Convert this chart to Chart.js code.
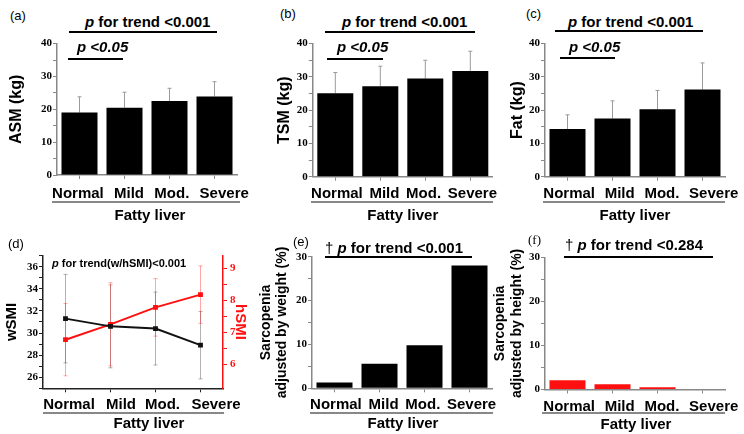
<!DOCTYPE html>
<html>
<head>
<meta charset="utf-8">
<script src="https://cdn.jsdelivr.net/npm/chart.js@4/dist/chart.umd.min.js"></script>
<style>
body { margin: 0; background: #fff; width: 744px; height: 434px; position: relative; overflow: hidden; font-family: Arial, "Liberation Sans", sans-serif; }
canvas { position: absolute; }
.t { position: absolute; white-space: nowrap; font-weight: bold; font-size: 15px; line-height: 18px; color: #000; }
.lab { position: absolute; white-space: nowrap; font-size: 13px; line-height: 18px; color: #000; }
.ln { position: absolute; height: 2px; background: #000; }
.ul { position: absolute; height: 2px; background: #888; }
</style>
</head>
<body>
<canvas id="cA" width="250" height="196" style="left:0;top:36px"></canvas>
<canvas id="cB" width="250" height="196" style="left:250px;top:36px"></canvas>
<canvas id="cC" width="244" height="196" style="left:500px;top:36px"></canvas>
<canvas id="cD" width="252" height="188" style="left:0;top:246px"></canvas>
<canvas id="cE" width="250" height="188" style="left:250px;top:246px"></canvas>
<canvas id="cF" width="259" height="188" style="left:485px;top:246px"></canvas>

<div class="lab" style="left:10px;top:7px">(a)</div>
<div class="lab" style="left:280px;top:5px">(b)</div>
<div class="lab" style="left:526px;top:5px">(c)</div>
<div class="lab" style="left:8px;top:235px">(d)</div>
<div class="lab" style="left:293px;top:233px">(e)</div>
<div class="lab" style="left:528px;top:231px;font-family:'Liberation Serif',serif">(f)</div>

<div class="t" style="left:85px;top:13px"><i>p</i> for trend &lt;0.001</div>
<div class="ln" style="left:69px;top:31px;width:148px"></div>
<div class="t" style="left:77px;top:38px"><i>p &lt;0.05</i></div>
<div class="ln" style="left:68px;top:58px;width:55px"></div>

<div class="t" style="left:342px;top:13px"><i>p</i> for trend &lt;0.001</div>
<div class="ln" style="left:325px;top:31px;width:150px"></div>
<div class="t" style="left:337px;top:38px"><i>p &lt;0.05</i></div>
<div class="ln" style="left:327px;top:58px;width:56px"></div>

<div class="t" style="left:568px;top:13px"><i>p</i> for trend &lt;0.001</div>
<div class="ln" style="left:555px;top:30px;width:148px"></div>
<div class="t" style="left:569px;top:38px"><i>p &lt;0.05</i></div>
<div class="ln" style="left:560px;top:57px;width:55px"></div>

<div class="t" style="left:52px;top:256px;font-size:11px;line-height:14px"><i>p</i> for trend(w/hSMI)&lt;0.001</div>

<div class="t" style="left:325px;top:239px"><span style="font-weight:normal">†</span> <i>p</i> for trend &lt;0.001</div>
<div class="ln" style="left:325px;top:256px;width:147px"></div>
<div class="t" style="left:565px;top:236px"><span style="font-weight:normal">†</span> <i>p</i> for trend &lt;0.284</div>
<div class="ln" style="left:564px;top:256px;width:149px"></div>

<div class="ul" style="left:52px;top:201px;width:188px"></div>
<div class="ul" style="left:311px;top:201px;width:182px"></div>
<div class="ul" style="left:543px;top:201px;width:182px"></div>
<div class="ul" style="left:43px;top:412px;width:181px"></div>
<div class="ul" style="left:310px;top:412px;width:183px"></div>
<div class="ul" style="left:542px;top:412px;width:183px"></div>

<script>
const categories = ['Normal', 'Mild', 'Mod.', 'Severe'];
const xTitle = 'Fatty liver';

const asmMean = [19.0, 20.5, 22.5, 23.9];
const asmSD = [4.8, 4.7, 3.9, 4.5];
const tsmMean = [25.1, 27.2, 29.5, 31.8];
const tsmSD = [6.2, 6.0, 5.5, 5.9];
const fatMean = [14.3, 17.5, 20.3, 26.2];
const fatSD = [4.3, 5.3, 5.6, 8.0];

const wsmiMean = [31.3, 30.6, 30.4, 28.9];
const wsmiSD = [4.0, 3.75, 3.3, 3.05];
const hsmiMean = [6.77, 7.25, 7.78, 8.18];
const hsmiSD = [1.13, 1.3, 0.9, 0.9];

const sarcWeight = [1.3, 5.6, 9.8, 28.0];
const sarcHeight = [2.1, 1.2, 0.5, 0];

const tickFont = {family: '"Liberation Serif", "Times New Roman", serif', size: 11, weight: 'bold'};
const labelFont = {family: 'Arial, "Liberation Sans", sans-serif', size: 15, weight: 'bold'};

// error bars, drawn under the datasets, through the chart's own scales
const errorBars = {
  id: 'errorBars',
  beforeDatasetsDraw(chart) {
    const ctx = chart.ctx;
    chart.data.datasets.forEach((ds, i) => {
      if (!ds.errors) return;
      const meta = chart.getDatasetMeta(i);
      const ys = chart.scales[meta.yAxisID];
      ctx.save();
      ctx.strokeStyle = ds.errorColor;
      ctx.lineWidth = 1;
      meta.data.forEach((el, j) => {
        const v = ds.data[j], e = ds.errors[j];
        const x = el.x;
        const top = ys.getPixelForValue(v + e);
        const bot = ys.getPixelForValue(ds.errorBoth ? v - e : v);
        ctx.beginPath();
        ctx.moveTo(x, bot); ctx.lineTo(x, top);
        ctx.moveTo(x - 2, top); ctx.lineTo(x + 2, top);
        if (ds.errorBoth) { ctx.moveTo(x - 2, bot); ctx.lineTo(x + 2, bot); }
        ctx.stroke();
      });
      ctx.restore();
    });
  }
};

// category labels and the axis title, nudged along the x scale like the original layout
const catLabels = {
  id: 'catLabels',
  afterDraw(chart, args, o) {
    const xs = chart.scales.x, ctx = chart.ctx;
    ctx.save();
    ctx.font = 'bold 15px Arial, "Liberation Sans", sans-serif';
    ctx.fillStyle = '#000';
    ctx.textAlign = 'center';
    ctx.textBaseline = 'middle';
    chart.data.labels.forEach((lab, i) => {
      ctx.fillText(lab, xs.getPixelForValue(i) + o.shifts[i], xs.top + o.labelY);
    });
    ctx.fillText(xTitle, (xs.left + xs.right) / 2 + o.titleShift, xs.top + o.titleY);
    ctx.restore();
  }
};

function isMultiple(v, step) {
  return Math.abs(v / step - Math.round(v / step)) < 1e-6;
}

function xAxis(p) {
  const c = p.axisColor || '#888';
  return {
    type: 'category',
    offset: true,
    border: {color: c, width: 1.5},
    grid: {drawOnChartArea: false, offset: false, tickLength: 4, color: c},
    ticks: {display: false},
    afterFit: s => { s.height = p.xHeight; }
  };
}

function yAxis(p) {
  const c = p.color || '#888';
  return {
    position: p.position || 'left',
    min: p.min, max: p.max,
    border: {color: c, width: 1.5},
    grid: {drawOnChartArea: false, tickLength: 4, color: c},
    ticks: {stepSize: p.step, autoSkip: false, font: tickFont, color: p.tickColor || '#000', padding: p.tickPad || 1,
            callback: v => isMultiple(v, p.labelEvery) ? v : ''},
    afterBuildTicks: s => { s.ticks = s.ticks.filter(t => isMultiple(t.value, p.step)); },
    title: {display: true, text: p.title, font: {...labelFont, size: p.titleSize}, color: p.titleColor || '#000',
            padding: {top: p.titlePad, bottom: 0}},
    afterFit: s => { s.width = p.width; }
  };
}

function barPanel(id, values, errors, color, p) {
  return new Chart(document.getElementById(id), {
    type: 'bar',
    data: {
      labels: categories,
      datasets: [{data: values, errors, errorColor: '#9a9a9a', backgroundColor: color,
                  borderWidth: 0, barPercentage: 0.8, categoryPercentage: 1}]
    },
    options: {
      responsive: false, animation: false, events: [],
      layout: {padding: {left: 0, right: p.padRight, top: p.padTop, bottom: 0}},
      plugins: {legend: {display: false}, tooltip: {enabled: false}, catLabels: p.labels},
      scales: {x: xAxis(p), y: yAxis(p.y)}
    },
    plugins: [errorBars, catLabels]
  });
}

barPanel('cA', asmMean, asmSD, '#000', {
  padRight: 13, padTop: 6, xHeight: 57,
  labels: {shifts: [-1.6, 4.5, 2.3, 9.7], labelY: 18.5, titleY: 41, titleShift: 3},
  y: {min: 0, max: 40, step: 5, labelEvery: 10, title: 'ASM (kg)', titleSize: 16, titlePad: 7, width: 57}
});
barPanel('cB', tsmMean, tsmSD, '#000', {
  padRight: 7.2, padTop: 7.3, xHeight: 55.3,
  labels: {shifts: [1.6, 4.1, -1.7, 2.1], labelY: 16.8, titleY: 39.3, titleShift: 0},
  y: {min: 0, max: 40, step: 5, labelEvery: 10, title: 'TSM (kg)', titleSize: 16, titlePad: 25.4, width: 62.8}
});
barPanel('cC', fatMean, fatSD, '#000', {
  padRight: 19, padTop: 6, xHeight: 55.3,
  labels: {shifts: [1.7, 7.2, 4.4, 11.2], labelY: 16.8, titleY: 39.3, titleShift: 0},
  y: {min: 0, max: 40, step: 5, labelEvery: 10, title: 'Fat (kg)', titleSize: 16, titlePad: 8.4, width: 45}
});
barPanel('cE', sarcWeight, null, '#000', {
  padRight: 8, padTop: 10.7, xHeight: 45.7,
  labels: {shifts: [1.4, 4.1, -1.7, 2.1], labelY: 17, titleY: 35.2, titleShift: 1},
  y: {min: 0, max: 30, step: 5, labelEvery: 10, title: ['Sarcopenia', 'adjusted by weight (%)'], titleSize: 14, titlePad: 7.3, width: 62}
});
barPanel('cF', sarcHeight, null, '#ff1010', {
  padRight: 19, padTop: 11.3, xHeight: 44.5,
  labels: {shifts: [1.7, 7.2, 4.4, 11.2], labelY: 17, titleY: 35.2, titleShift: 1},
  y: {min: 0, max: 30, step: 5, labelEvery: 10, title: ['Sarcopenia', 'adjusted by height (%)'], titleSize: 14, titlePad: 6.6, width: 60}
});

// panel (d): wSMI and hSMI on two axes
new Chart(document.getElementById('cD'), {
  type: 'line',
  data: {
    labels: categories,
    datasets: [
      {data: wsmiMean, errors: wsmiSD, errorBoth: true, errorColor: 'rgba(0,0,0,0.3)', yAxisID: 'y',
       borderColor: '#111', backgroundColor: '#111', borderWidth: 2, pointRadius: 2, pointStyle: 'rect'},
      {data: hsmiMean, errors: hsmiSD, errorBoth: true, errorColor: 'rgba(255,0,0,0.35)', yAxisID: 'y2',
       borderColor: '#ff1010', backgroundColor: '#ff1010', borderWidth: 2, pointRadius: 2, pointStyle: 'rect'}
    ]
  },
  options: {
    responsive: false, animation: false, events: [],
    layout: {padding: {left: 0, right: 0, top: 7.3, bottom: 0}},
    plugins: {legend: {display: false}, tooltip: {enabled: false},
              catLabels: {shifts: [3.5, 10.5, 7, 15.5], labelY: 17, titleY: 35.2, titleShift: 16}},
    scales: {
      x: xAxis({axisColor: '#222', xHeight: 45.7}),
      y: yAxis({min: 25, max: 37, step: 1, labelEvery: 2, color: '#222', title: 'wSMI', titleSize: 15, titlePad: 3, width: 43}),
      y2: yAxis({position: 'right', min: 5.25, max: 9.4, step: 0.5, labelEvery: 1, color: '#ff1010', tickColor: '#ff1010',
                 tickPad: 3, title: 'hSMI', titleSize: 15, titleColor: '#ff1010', titlePad: 3, width: 29})
    }
  },
  plugins: [errorBars, catLabels]
});
</script>
</body>
</html>
